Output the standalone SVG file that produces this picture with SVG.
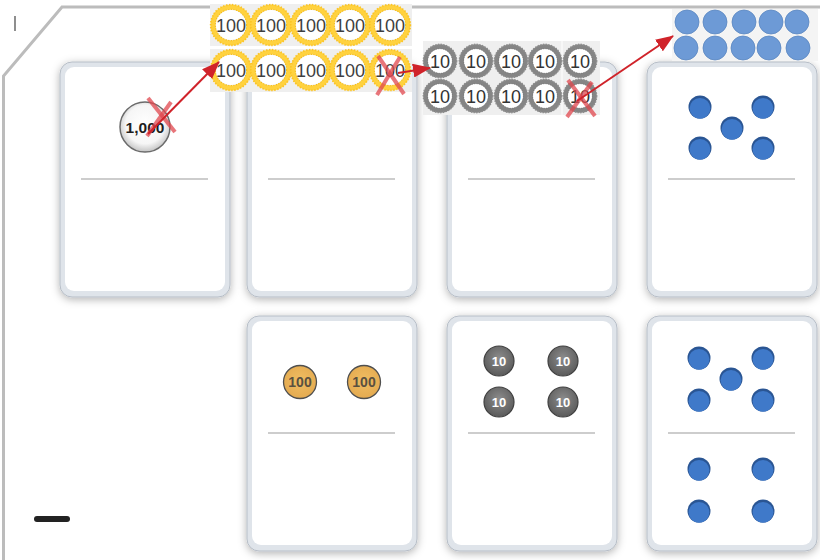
<svg xmlns="http://www.w3.org/2000/svg" xmlns:xlink="http://www.w3.org/1999/xlink" width="820" height="560" viewBox="0 0 820 560">
<style>
  .card-outer{fill:#dfe4ea;stroke:#b7bec7;stroke-width:1}
  .card-inner{fill:#ffffff}
  .divider{stroke:#bdbdbd;stroke-width:1.6}
  .xmark{stroke:#e0474e;stroke-opacity:0.75;stroke-width:4;stroke-linecap:butt}
  .arrow{stroke:#d0232a;stroke-width:2;fill:none}
  .t100{font-family:"Liberation Sans",Arial,sans-serif;font-size:18px;fill:#3f3f3f;text-anchor:middle}
  .t10{font-family:"Liberation Sans",Arial,sans-serif;font-size:18px;fill:#333;text-anchor:middle}
  .b100{font-family:"Liberation Sans",Arial,sans-serif;font-size:14px;font-weight:bold;fill:#5a5040;text-anchor:middle}
  .b10{font-family:"Liberation Sans",Arial,sans-serif;font-size:13px;font-weight:bold;fill:#ffffff;text-anchor:middle}
  .t1000{font-family:"Liberation Sans",Arial,sans-serif;font-size:15.5px;font-weight:bold;fill:#1e1e1e;text-anchor:middle}
  .tilebg{fill:#efefef}
</style>
<defs>
  <filter id="shadow" x="-20%" y="-20%" width="140%" height="140%">
    <feDropShadow dx="0" dy="2" stdDeviation="4.5" flood-color="#000" flood-opacity="0.3"/>
  </filter>
  <radialGradient id="g1000" cx="50%" cy="45%" r="55%">
    <stop offset="0" stop-color="#ffffff"/>
    <stop offset="0.7" stop-color="#f6f6f6"/>
    <stop offset="1" stop-color="#c4c4c4"/>
  </radialGradient>
  <radialGradient id="g10" cx="50%" cy="40%" r="60%">
    <stop offset="0" stop-color="#8c8c8c"/>
    <stop offset="1" stop-color="#5a5a5a"/>
  </radialGradient>
  <radialGradient id="g100b" cx="50%" cy="45%" r="60%">
    <stop offset="0" stop-color="#f0bd62"/>
    <stop offset="1" stop-color="#e3a94f"/>
  </radialGradient>
  <marker id="ah" markerUnits="userSpaceOnUse" markerWidth="18" markerHeight="14" refX="17" refY="7" orient="auto">
    <path d="M0,0 L18,7 L0,14 Z" fill="#d0232a"/>
  </marker>
  <g id="dot">
    <circle r="11.5" fill="#2a5593"/>
    <circle cy="1.3" r="10.4" fill="#3f79c9"/>
  </g>
  <g id="lightdot">
    <circle r="12" fill="#6d9ad6" stroke="#5a86c0" stroke-width="0.8"/>
  </g>
  <g id="ring100">
    <circle r="18" fill="none" stroke="#ffd23f" stroke-width="5"/>
    <circle r="20.3" fill="none" stroke="#fbc426" stroke-width="1.8" stroke-dasharray="1.4 1.6"/>
    <circle r="15.6" fill="none" stroke="#f5bd1c" stroke-width="1.2" stroke-dasharray="1.2 1.4"/>
    <circle r="15" fill="#ffffff"/>
  </g>
  <g id="ring10">
    <circle r="14.5" fill="none" stroke="#858585" stroke-width="4.6"/>
    <circle r="16.6" fill="none" stroke="#8f8f8f" stroke-width="1.6" stroke-dasharray="1.4 1.3"/>
    <circle r="12.2" fill="none" stroke="#6f6f6f" stroke-width="1" stroke-dasharray="1.2 1.2"/>
    <circle r="11.8" fill="#ffffff"/>
  </g>
</defs>

<rect width="820" height="560" fill="#ffffff"/>

<!-- frame -->
<g id="frame">
  <path d="M820,7 L62,7 L3.5,76 L3.5,560" fill="none" stroke="#bcbcbc" stroke-width="3"/>
  <line x1="15" y1="16" x2="15" y2="31" stroke="#444" stroke-width="1.2"/>
  <line x1="37" y1="519" x2="67" y2="519" stroke="#222" stroke-width="6" stroke-linecap="round"/>
</g>

<!-- cards -->
<g id="card-thousands" transform="translate(60,62)" filter="url(#shadow)">
  <rect class="card-outer" width="170" height="235" rx="12"/>
  <rect class="card-inner" x="5" y="5" width="160" height="224" rx="9"/>
  <line class="divider" x1="21" y1="117" x2="148" y2="117"/>
</g>
<g id="card-hundreds-top" transform="translate(247,62)" filter="url(#shadow)">
  <rect class="card-outer" width="170" height="235" rx="12"/>
  <rect class="card-inner" x="5" y="5" width="160" height="224" rx="9"/>
  <line class="divider" x1="21" y1="117" x2="148" y2="117"/>
</g>
<g id="card-tens-top" transform="translate(447,62)" filter="url(#shadow)">
  <rect class="card-outer" width="170" height="235" rx="12"/>
  <rect class="card-inner" x="5" y="5" width="160" height="224" rx="9"/>
  <line class="divider" x1="21" y1="117" x2="148" y2="117"/>
</g>
<g id="card-ones-top" transform="translate(647,62)" filter="url(#shadow)">
  <rect class="card-outer" width="170" height="235" rx="12"/>
  <rect class="card-inner" x="5" y="5" width="160" height="224" rx="9"/>
  <line class="divider" x1="21" y1="117" x2="148" y2="117"/>
</g>
<g id="card-hundreds-bottom" transform="translate(247,316)" filter="url(#shadow)">
  <rect class="card-outer" width="170" height="235" rx="12"/>
  <rect class="card-inner" x="5" y="5" width="160" height="224" rx="9"/>
  <line class="divider" x1="21" y1="117" x2="148" y2="117"/>
</g>
<g id="card-tens-bottom" transform="translate(447,316)" filter="url(#shadow)">
  <rect class="card-outer" width="170" height="235" rx="12"/>
  <rect class="card-inner" x="5" y="5" width="160" height="224" rx="9"/>
  <line class="divider" x1="21" y1="117" x2="148" y2="117"/>
</g>
<g id="card-ones-bottom" transform="translate(647,316)" filter="url(#shadow)">
  <rect class="card-outer" width="170" height="235" rx="12"/>
  <rect class="card-inner" x="5" y="5" width="160" height="224" rx="9"/>
  <line class="divider" x1="21" y1="117" x2="148" y2="117"/>
</g>

<!-- card contents -->
<g id="coin-1000">
  <circle cx="145" cy="127" r="25" fill="url(#g1000)" stroke="#6b6b6b" stroke-width="1.5"/>
  <text class="t1000" x="145" y="132.5">1,000</text>
</g>

<g id="ones-top-dots">
  <use href="#dot" x="700" y="107"/>
  <use href="#dot" x="763" y="107"/>
  <use href="#dot" x="732" y="128"/>
  <use href="#dot" x="700" y="148"/>
  <use href="#dot" x="763" y="148"/>
</g>

<g id="hundreds-bottom-coins">
  <circle cx="300" cy="382" r="16.5" fill="url(#g100b)" stroke="#4f4f4f" stroke-width="1.3"/>
  <text class="b100" x="300" y="387">100</text>
  <circle cx="364" cy="382" r="16.5" fill="url(#g100b)" stroke="#4f4f4f" stroke-width="1.3"/>
  <text class="b100" x="364" y="387">100</text>
</g>

<g id="tens-bottom-coins">
  <circle cx="499" cy="361" r="15" fill="url(#g10)" stroke="#3f3f3f" stroke-width="1.2"/>
  <text class="b10" x="499" y="366">10</text>
  <circle cx="563" cy="361" r="15" fill="url(#g10)" stroke="#3f3f3f" stroke-width="1.2"/>
  <text class="b10" x="563" y="366">10</text>
  <circle cx="499" cy="402" r="15" fill="url(#g10)" stroke="#3f3f3f" stroke-width="1.2"/>
  <text class="b10" x="499" y="407">10</text>
  <circle cx="563" cy="402" r="15" fill="url(#g10)" stroke="#3f3f3f" stroke-width="1.2"/>
  <text class="b10" x="563" y="407">10</text>
</g>

<g id="ones-bottom-dots">
  <use href="#dot" x="699" y="358"/>
  <use href="#dot" x="763" y="358"/>
  <use href="#dot" x="731" y="379"/>
  <use href="#dot" x="699" y="400"/>
  <use href="#dot" x="763" y="400"/>
  <use href="#dot" x="699" y="469"/>
  <use href="#dot" x="763" y="469"/>
  <use href="#dot" x="699" y="511"/>
  <use href="#dot" x="763" y="511"/>
</g>

<!-- exchanged hundreds -->
<g id="hundreds-group">
  <rect class="tilebg" x="210" y="4" width="202" height="42"/>
  <rect class="tilebg" x="210" y="49" width="202" height="43"/>
  <use href="#ring100" x="231" y="25"/><text class="t100" x="231" y="31.5">100</text>
  <use href="#ring100" x="271" y="25"/><text class="t100" x="271" y="31.5">100</text>
  <use href="#ring100" x="311" y="25"/><text class="t100" x="311" y="31.5">100</text>
  <use href="#ring100" x="350" y="25"/><text class="t100" x="350" y="31.5">100</text>
  <use href="#ring100" x="390" y="25"/><text class="t100" x="390" y="31.5">100</text>
  <use href="#ring100" x="231" y="70"/><text class="t100" x="231" y="76.5">100</text>
  <use href="#ring100" x="271" y="70"/><text class="t100" x="271" y="76.5">100</text>
  <use href="#ring100" x="311" y="70"/><text class="t100" x="311" y="76.5">100</text>
  <use href="#ring100" x="350" y="70"/><text class="t100" x="350" y="76.5">100</text>
  <use href="#ring100" x="390" y="70"/><text class="t100" x="390" y="76.5">100</text>
</g>

<!-- exchanged tens -->
<g id="tens-group">
  <rect class="tilebg" x="423" y="41" width="177" height="74"/>
  <line x1="562" y1="41" x2="562" y2="115" stroke="#fff" stroke-width="1"/>
  <use href="#ring10" x="440" y="61"/><text class="t10" x="440" y="67.5">10</text>
  <use href="#ring10" x="476" y="61"/><text class="t10" x="476" y="67.5">10</text>
  <use href="#ring10" x="511" y="61"/><text class="t10" x="511" y="67.5">10</text>
  <use href="#ring10" x="545" y="61"/><text class="t10" x="545" y="67.5">10</text>
  <use href="#ring10" x="580" y="61"/><text class="t10" x="580" y="67.5">10</text>
  <use href="#ring10" x="440" y="96"/><text class="t10" x="440" y="102.5">10</text>
  <use href="#ring10" x="476" y="96"/><text class="t10" x="476" y="102.5">10</text>
  <use href="#ring10" x="511" y="96"/><text class="t10" x="511" y="102.5">10</text>
  <use href="#ring10" x="545" y="96"/><text class="t10" x="545" y="102.5">10</text>
  <use href="#ring10" x="580" y="96"/><text class="t10" x="580" y="102.5">10</text>
</g>

<!-- exchanged ones -->
<g id="ones-group">
  <rect x="672" y="9" width="146" height="52" fill="#f4f4f4"/>
  <use href="#lightdot" x="687" y="22"/>
  <use href="#lightdot" x="715" y="22"/>
  <use href="#lightdot" x="744" y="22"/>
  <use href="#lightdot" x="771" y="22"/>
  <use href="#lightdot" x="797" y="22"/>
  <use href="#lightdot" x="686" y="48"/>
  <use href="#lightdot" x="715" y="48"/>
  <use href="#lightdot" x="743" y="48"/>
  <use href="#lightdot" x="769" y="48"/>
  <use href="#lightdot" x="798" y="48"/>
</g>

<!-- cross marks -->
<g id="crosses">
  <line class="xmark" x1="148" y1="98" x2="175" y2="132"/>
  <line class="xmark" x1="171" y1="102" x2="147" y2="136"/>
  <line class="xmark" x1="378" y1="56" x2="404" y2="94"/>
  <line class="xmark" x1="400" y1="57" x2="377" y2="95"/>
  <line class="xmark" x1="568" y1="80" x2="595" y2="116"/>
  <line class="xmark" x1="592" y1="82" x2="567" y2="117"/>
</g>

<!-- connectors -->
<g id="connectors">
  <line class="arrow" x1="148" y1="134" x2="219" y2="62" marker-end="url(#ah)"/>
  <line class="arrow" x1="398" y1="73" x2="430" y2="68" marker-end="url(#ah)"/>
  <line class="arrow" x1="577" y1="101" x2="673" y2="36" marker-end="url(#ah)"/>
</g>
</svg>
